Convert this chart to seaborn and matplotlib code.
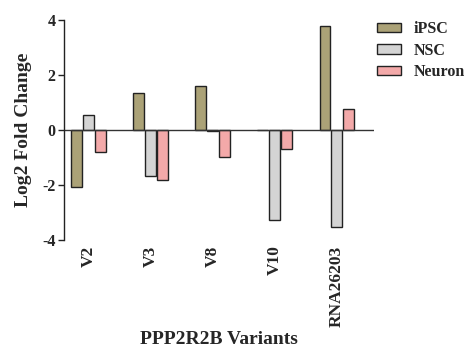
import matplotlib
matplotlib.use("Agg")
import matplotlib.pyplot as plt
import seaborn as sns
import pandas as pd

variants = ["V2", "V3", "V8", "V10", "RNA26203"]
ipsc = [-2.08, 1.33, 1.61, 0.0, 3.78]
nsc = [0.56, -1.67, -0.03, -3.27, -3.52]
neuron = [-0.79, -1.81, -0.99, -0.70, 0.76]
groups = ["iPSC", "NSC", "Neuron"]
colors = ["#b4a86e", "#d4d4d4", "#ff9d9d"]

rows = []
for g, vals in zip(groups, [ipsc, nsc, neuron]):
    for v, val in zip(variants, vals):
        rows.append({"Variant": v, "Group": g, "Value": val})
df = pd.DataFrame(rows)

sns.set_style("white")
plt.rcParams["font.family"] = ["Liberation Serif", "DejaVu Serif"]
plt.rcParams["font.weight"] = "bold"

fig = plt.figure(figsize=(4.7, 3.48), dpi=100)
ax = fig.add_axes([0.136, 0.3103, 0.66, 0.6322])

sns.barplot(data=df, x="Variant", y="Value", hue="Group", order=variants,
            hue_order=groups, palette=colors, width=0.58, gap=0.1,
            edgecolor="#222222", linewidth=1.0, ax=ax, legend=True)

ax.set_xlim(-0.4, 4.6)
ax.set_ylim(-4, 4)
ax.set_yticks([-4, -2, 0, 2, 4])
ax.set_yticklabels(["-4", "-2", "0", "2", "4"], fontsize=11.5, fontweight="bold")
ax.axhline(0, color="#333333", lw=1.0, zorder=1)
for s in ["top", "right", "bottom"]:
    ax.spines[s].set_visible(False)
ax.spines["left"].set_color("#222222")
ax.spines["left"].set_linewidth(1.0)
ax.tick_params(axis="y", direction="out", length=4, width=1, color="#222222", left=True, pad=2)
ax.tick_params(axis="x", length=0, pad=4)
ax.set_xticks(range(len(variants)))
ax.set_xticklabels(variants, rotation=90, fontsize=12.5, fontweight="bold")
ax.set_ylabel("Log2 Fold Change", fontsize=14, fontweight="bold", labelpad=7)
ax.set_xlabel("PPP2R2B Variants", fontsize=14, fontweight="bold", labelpad=3)

leg = ax.legend(loc="upper left", bbox_to_anchor=(1.0, 1.01), frameon=False,
                prop={"family": "Liberation Serif", "weight": "bold", "size": 11.5},
                handlelength=1.5, handleheight=0.55, handletextpad=0.75, labelspacing=0.35,
                borderaxespad=0.0, borderpad=0.2)

fig.savefig("out.png", dpi=100)
